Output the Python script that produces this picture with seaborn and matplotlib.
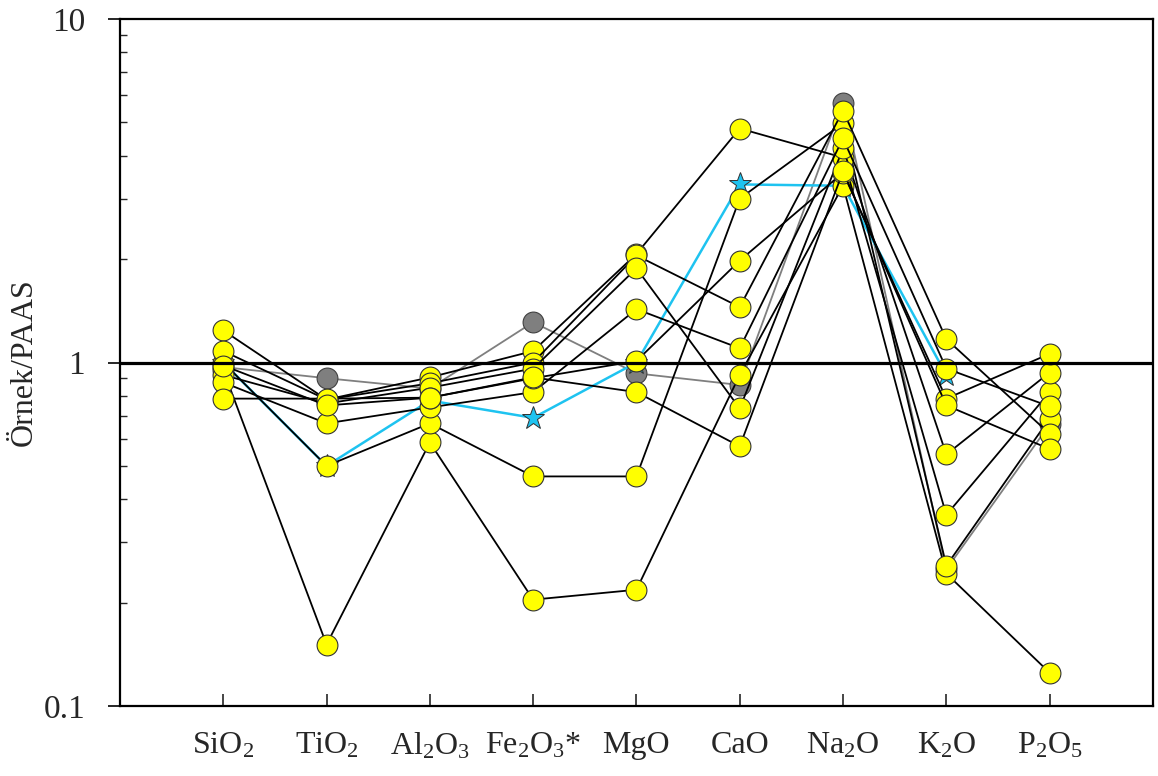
import numpy as np
import pandas as pd
import matplotlib
matplotlib.use("Agg")
import matplotlib.pyplot as plt
import seaborn as sns
from matplotlib.ticker import NullFormatter, LogLocator

# ---------------- data ----------------
oxides = ["SiO$_2$", "TiO$_2$", "Al$_2$O$_3$", "Fe$_2$O$_3$*", "MgO", "CaO",
          "Na$_2$O", "K$_2$O", "P$_2$O$_5$"]

s1 = [0.95, 0.151, 0.585, 0.204, 0.218, 0.92, 3.27, 0.243, 0.125]
s2 = [1.00, 0.50, 0.665, 0.466, 0.466, 3.00, 4.97, 0.256, 0.687]
s3 = [1.24, 0.78, 0.905, 1.08, 2.07, 4.80, 3.95, 0.36, 0.82]
s4 = [1.08, 0.78, 0.87, 1.00, 2.05, 1.45, 5.41, 1.17, 0.62]
s5 = [0.92, 0.76, 0.845, 0.96, 1.88, 0.735, 4.20, 0.54, 0.935]
s6 = [0.875, 0.665, 0.74, 0.82, 1.43, 1.10, 4.49, 0.96, 0.745]
s7 = [0.785, 0.785, 0.79, 0.90, 1.01, 1.98, 3.57, 0.785, 1.06]
s8 = [0.98, 0.75, 0.79, 0.905, 0.82, 0.57, 3.60, 0.75, 0.56]
yellow_series = [s1, s2, s3, s4, s5, s6, s7, s8]

grey_series = [0.97, 0.90, 0.84, 1.31, 0.93, 0.86, 5.70, 0.25, 0.66]
cyan_series = [1.00, 0.50, 0.775, 0.69, 1.00, 3.30, 3.27, 0.92, np.nan]

ytick_vals = [0.1, 1, 10]
ytick_labels = ["0.1", "1", "10"]
ylabel = "Örnek/PAAS"

# ---------------- style ----------------
sns.set_theme(style="white")
plt.rcParams["font.family"] = ["Liberation Serif", "DejaVu Serif"]
plt.rcParams["mathtext.fontset"] = "custom"
plt.rcParams["mathtext.rm"] = "Liberation Serif"
plt.rcParams["mathtext.it"] = "Liberation Serif:italic"
plt.rcParams["mathtext.default"] = "rm"

fig = plt.figure(figsize=(11.58, 7.76), dpi=100)
ax = fig.add_axes([0.1036, 0.0902, 0.892, 0.8853])

xpos = np.arange(len(oxides))

# grey sample (drawn first, behind)
sns.lineplot(x=xpos, y=grey_series, ax=ax, color="#7f7f7f", lw=1.3,
             marker="o", markersize=15, markerfacecolor="#7f7f7f",
             markeredgecolor="#404040", markeredgewidth=0.8, zorder=2,
             legend=False, sort=False)

# cyan star sample
cdf = pd.DataFrame({"x": xpos, "y": cyan_series}).dropna()
sns.lineplot(data=cdf, x="x", y="y", ax=ax, color="#1ec3f0", lw=1.8,
             marker="*", markersize=17, markerfacecolor="#1ec3f0",
             markeredgecolor="#303030", markeredgewidth=0.7, zorder=3,
             legend=False, sort=False)

# yellow samples
for i, s in enumerate(yellow_series):
    sns.lineplot(x=xpos, y=s, ax=ax, color="black", lw=1.3,
                 marker="o", markersize=15, markerfacecolor="#ffff00",
                 markeredgecolor="#333333", markeredgewidth=0.8,
                 zorder=4 + i * 0.01, legend=False, sort=False)

ax.axhline(1, color="black", lw=2.3, zorder=10)

ax.set_yscale("log")
ax.set_ylim(0.1, 10)
ax.set_xlim(-1, 9)

ax.set_xticks(xpos)
ax.set_xticklabels(oxides, fontsize=23)
ax.set_yticks(ytick_vals)
ax.set_yticklabels(ytick_labels, fontsize=24)
ax.yaxis.set_minor_locator(LogLocator(base=10, subs=np.arange(2, 10)))
ax.yaxis.set_minor_formatter(NullFormatter())

ax.tick_params(axis="x", direction="in", length=9, width=1.2, pad=18,
               bottom=True, top=False)
ax.tick_params(axis="y", which="major", direction="out", length=9, width=1.4,
               left=True, right=False, pad=16)
ax.tick_params(axis="y", which="minor", direction="in", length=5, width=1.0,
               left=True, right=False)

for sp in ax.spines.values():
    sp.set_visible(True)
    sp.set_color("black")
    sp.set_linewidth(1.6)

ax.set_xlabel("")
ax.set_ylabel(ylabel, fontsize=23, va="center", ha="center")
ax.yaxis.set_label_coords(-0.0925, 0.5)
ax.grid(False)

fig.savefig("out.png", dpi=100, facecolor="white")
